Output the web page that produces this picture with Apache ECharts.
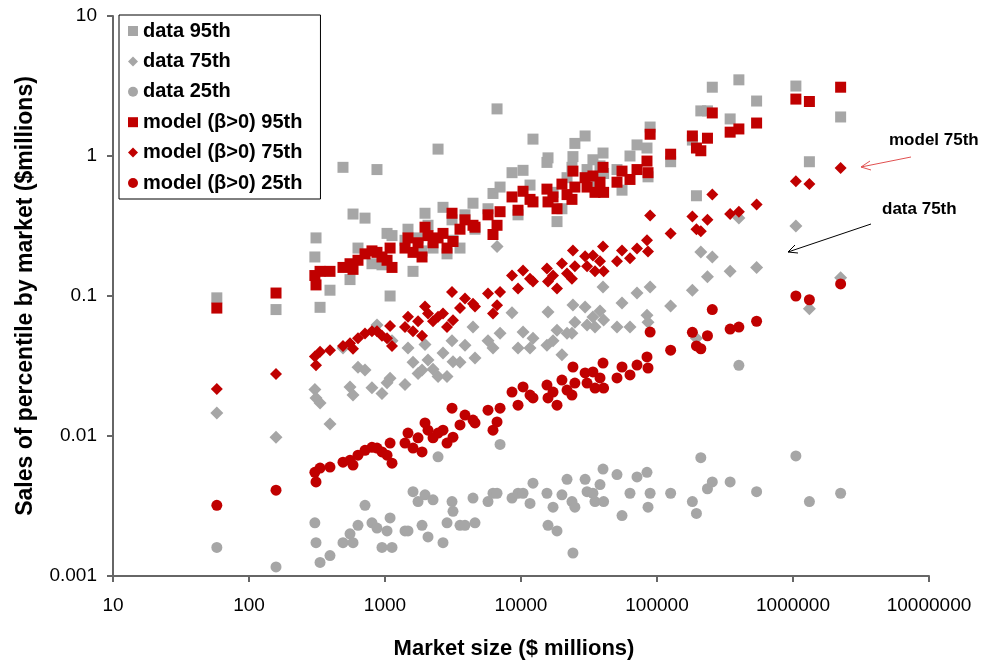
<!DOCTYPE html>
<html>
<head>
<meta charset="utf-8">
<script src="https://cdn.jsdelivr.net/npm/echarts@6/dist/echarts.min.js"></script>
<style>
  html, body { margin: 0; padding: 0; background: #fff; }
  #chart { width: 1007px; height: 667px; }
</style>
</head>
<body>
<div id="chart"></div>
<script>
// market size ($ millions), one entry per market
var marketSize = [58, 158,
  305, 311, 333, 394, 491, 553, 582, 633, 713, 802, 873, 950, 1035, 1090, 1126,
  1403, 1476, 1607, 1750, 1872, 1969, 2071, 2255, 2455, 2670, 2858, 3110, 3162,
  3560, 3873, 4436, 4590, 5720, 6224, 6665, 7015, 8590, 9510, 10350, 11650, 12250,
  15520, 15800, 17200, 18400, 20000, 21800, 23700, 24100, 24900, 29600, 30600,
  33800, 35000, 38100, 40100, 40500, 50800, 55300, 63300, 71300, 84400, 85900, 89000,
  126000, 182000, 195000, 210000, 235000, 255000, 345000, 400000, 540000,
  1050000, 1320000, 2240000];

var data95 = [0.097, 0.08,
  0.19, 0.26, 0.083, 0.11, 0.83, 0.131, 0.385, 0.22, 0.36, 0.17, 0.80, 0.167, 0.28, 0.10, 0.27,
  0.25, 0.30, 0.15, 0.26, 0.21, 0.39, 0.32, 0.22, 1.12, 0.43, 0.20, 0.35, 0.25,
  0.22, 0.38, 0.46, 0.30, 0.42, 0.54, 2.17, 0.60, 0.76, 0.38, 0.79, 0.62, 1.32,
  0.90, 0.97, 0.55, 0.34, 0.42, 0.70, 0.83, 0.99, 1.23, 1.39, 0.80,
  0.94, 0.65, 0.85, 1.05, 0.75, 0.80, 0.57, 1.0, 1.2, 1.14, 0.71, 1.61,
  0.91, 1.3, 0.52, 2.1, 2.1, 3.1, 1.84, 3.5, 2.47,
  3.16, 0.91, 1.9];

var data75 = [0.0146, 0.0098,
  0.0215, 0.0187, 0.0172, 0.0122, 0.0425, 0.0224, 0.0196, 0.031, 0.0296, 0.0221, 0.062, 0.0201, 0.024, 0.0258, 0.048,
  0.0233, 0.0425, 0.0336, 0.028, 0.0296, 0.045, 0.0349, 0.030, 0.0266, 0.0392, 0.0266, 0.048, 0.0339,
  0.0336, 0.0445, 0.060, 0.036, 0.048, 0.0425, 0.226, 0.0543, 0.0758, 0.0425, 0.0554, 0.0425, 0.05,
  0.0445, 0.077, 0.048, 0.057, 0.0381, 0.0543, 0.0543, 0.0862, 0.065, 0.0834, 0.062,
  0.0709, 0.060, 0.078, 0.116, 0.0675, 0.060, 0.0893, 0.060, 0.105, 0.073, 0.065, 0.116,
  0.085, 0.11, 0.05, 0.206, 0.137, 0.19, 0.15, 0.36, 0.16,
  0.316, 0.081, 0.135];

var data25 = [0.0016, 0.00116,
  0.0024, 0.00173, 0.00125, 0.0014, 0.00173, 0.0020, 0.00173, 0.0023, 0.0032, 0.0024, 0.0022, 0.0016, 0.0021, 0.0026, 0.0016,
  0.0021, 0.0021, 0.0040, 0.0034, 0.0023, 0.0038, 0.0019, 0.0035, 0.0071, 0.00173, 0.0024, 0.0034, 0.0029,
  0.0023, 0.0023, 0.0036, 0.0024, 0.0034, 0.0039, 0.0039, 0.0087, 0.0036, 0.0039, 0.0039, 0.0033, 0.0046,
  0.0039, 0.0023, 0.0031, 0.0021, 0.0038, 0.0049, 0.0034, 0.00146, 0.0031, 0.0049, 0.0040,
  0.0039, 0.0034, 0.0045, 0.0058, 0.0034, 0.0053, 0.0027, 0.0039, 0.0051, 0.0055, 0.0031, 0.0039,
  0.0039, 0.0034, 0.0028, 0.0070, 0.0042, 0.0047, 0.0047, 0.032, 0.0040,
  0.0072, 0.0034, 0.0039];

var model95 = [0.082, 0.105,
  0.14, 0.12, 0.15, 0.15, 0.16, 0.17, 0.155, 0.18, 0.20, 0.21, 0.205, 0.19, 0.18, 0.22, 0.16,
  0.22, 0.26, 0.205, 0.24, 0.19, 0.31, 0.27, 0.24, 0.26, 0.28, 0.22, 0.39, 0.245,
  0.30, 0.35, 0.32, 0.31, 0.38, 0.275, 0.32, 0.40, 0.51, 0.41, 0.56, 0.49, 0.47,
  0.58, 0.47, 0.51, 0.42, 0.63, 0.53, 0.49, 0.78, 0.60, 0.70, 0.60,
  0.72, 0.55, 0.65, 0.83, 0.55, 0.65, 0.78, 0.68, 0.80, 0.92, 0.76, 1.43,
  1.03, 1.39, 1.14, 1.09, 1.34, 2.03, 1.48, 1.56, 1.72,
  2.55, 2.45, 3.1];

var model75 = [0.0217, 0.0277,
  0.037, 0.032, 0.040, 0.041, 0.044, 0.046, 0.042, 0.050, 0.054, 0.056, 0.056, 0.052, 0.050, 0.061, 0.044,
  0.060, 0.071, 0.056, 0.066, 0.052, 0.084, 0.075, 0.066, 0.071, 0.075, 0.060, 0.107, 0.067,
  0.082, 0.096, 0.088, 0.084, 0.104, 0.075, 0.086, 0.107, 0.140, 0.113, 0.152, 0.133, 0.127,
  0.157, 0.127, 0.140, 0.113, 0.171, 0.145, 0.133, 0.211, 0.163, 0.192, 0.163,
  0.195, 0.150, 0.177, 0.226, 0.150, 0.177, 0.211, 0.186, 0.218, 0.250, 0.208, 0.376,
  0.28, 0.37, 0.30, 0.29, 0.35, 0.53, 0.385, 0.40, 0.45,
  0.66, 0.63, 0.82];

var model25 = [0.0032, 0.0041,
  0.0055, 0.0047, 0.0059, 0.0060, 0.0065, 0.0067, 0.0062, 0.0073, 0.0079, 0.0083, 0.0082, 0.0077, 0.0073, 0.0089, 0.0064,
  0.0089, 0.0105, 0.0082, 0.0097, 0.0077, 0.0124, 0.0110, 0.0097, 0.0105, 0.0110, 0.0089, 0.0158, 0.0098,
  0.0120, 0.0141, 0.0130, 0.0124, 0.0153, 0.0110, 0.0126, 0.0158, 0.0206, 0.0166, 0.0224, 0.0196, 0.0187,
  0.0231, 0.0187, 0.0206, 0.0166, 0.0251, 0.0213, 0.0196, 0.0311, 0.0239, 0.0282, 0.0239,
  0.0287, 0.0220, 0.0260, 0.0332, 0.0220, 0.0260, 0.0311, 0.0273, 0.0321, 0.0367, 0.0306, 0.0553,
  0.041, 0.055, 0.044, 0.042, 0.052, 0.080, 0.058, 0.060, 0.066,
  0.10, 0.094, 0.122];

var font = 'Arial, "Liberation Sans", sans-serif';
var gray = '#a6a6a6';
var red = '#c00000';

function pairs(ys) {
  return marketSize.map(function (x, i) { return [x, ys[i]]; });
}

function fmt(v) {
  return String(+Number(v).toPrecision(1));
}

var chart = echarts.init(document.getElementById('chart'));

chart.setOption({
  animation: false,
  grid: { left: 113, right: 78, top: 16, bottom: 91 },
  legend: {
    orient: 'vertical',
    left: 119,
    top: 15,
    padding: [6, 18, 6, 9],
    itemWidth: 10,
    itemHeight: 10,
    itemGap: 10.4,
    backgroundColor: '#fff',
    borderColor: '#000',
    borderWidth: 1,
    textStyle: { fontFamily: font, fontSize: 20, lineHeight: 20, fontWeight: 'bold', color: '#000' },
    data: ['data 95th', 'data 75th', 'data 25th', 'model (β>0) 95th', 'model (β>0) 75th', 'model (β>0) 25th']
  },
  xAxis: {
    type: 'log',
    logBase: 10,
    min: 10,
    max: 10000000,
    name: 'Market size ($ millions)',
    nameLocation: 'middle',
    nameGap: 62,
    nameTextStyle: { fontFamily: font, fontSize: 22, fontWeight: 'bold', color: '#000', padding: [0, 14, 0, 0] },
    axisLine: { lineStyle: { color: '#666', width: 2 } },
    axisTick: { length: 6, lineStyle: { color: '#666', width: 2 } },
    axisLabel: { fontFamily: font, fontSize: 19, color: '#000', margin: 20, formatter: fmt },
    splitLine: { show: false },
    minorTick: { show: false }
  },
  yAxis: {
    type: 'log',
    logBase: 10,
    min: 0.001,
    max: 10,
    name: 'Sales of percentile by market ($millions)',
    nameLocation: 'middle',
    nameGap: 76,
    nameTextStyle: { fontFamily: font, fontSize: 23, fontWeight: 'bold', color: '#000' },
    axisLine: { lineStyle: { color: '#666', width: 2 } },
    axisTick: { length: 6, lineStyle: { color: '#666', width: 2 } },
    axisLabel: { fontFamily: font, fontSize: 19, color: '#000', margin: 16, formatter: fmt },
    splitLine: { show: false }
  },
  series: [
    { name: 'data 95th', type: 'scatter', symbol: 'rect', symbolSize: 11, itemStyle: { color: gray, opacity: 1 }, data: pairs(data95) },
    { name: 'data 75th', type: 'scatter', symbol: 'diamond', symbolSize: 13, itemStyle: { color: gray, opacity: 1 }, data: pairs(data75) },
    { name: 'data 25th', type: 'scatter', symbol: 'circle', symbolSize: 11, itemStyle: { color: gray, opacity: 1 }, data: pairs(data25) },
    { name: 'model (β>0) 95th', type: 'scatter', symbol: 'rect', symbolSize: 11, itemStyle: { color: red, opacity: 1 }, data: pairs(model95) },
    { name: 'model (β>0) 75th', type: 'scatter', symbol: 'diamond', symbolSize: 12, itemStyle: { color: red, opacity: 1 }, data: pairs(model75) },
    { name: 'model (β>0) 25th', type: 'scatter', symbol: 'circle', symbolSize: 11, itemStyle: { color: red, opacity: 1 }, data: pairs(model25) }
  ],
  graphic: [
    { type: 'text', left: 889, top: 132, style: { text: 'model 75th', fontFamily: font, fontSize: 17, fontWeight: 'bold', fill: '#000' } },
    { type: 'line', shape: { x1: 911, y1: 157, x2: 861, y2: 167 }, style: { stroke: '#e05050', lineWidth: 1 } },
    { type: 'polyline', shape: { points: [[870, 161], [861, 167], [871, 170]] }, style: { stroke: '#e05050', lineWidth: 1, fill: null } },
    { type: 'text', left: 882, top: 201, style: { text: 'data 75th', fontFamily: font, fontSize: 17, fontWeight: 'bold', fill: '#000' } },
    { type: 'line', shape: { x1: 871, y1: 224, x2: 788, y2: 252 }, style: { stroke: '#000', lineWidth: 1 } },
    { type: 'polyline', shape: { points: [[795, 245], [788, 252], [798, 253]] }, style: { stroke: '#000', lineWidth: 1, fill: null } }
  ]
});
</script>
</body>
</html>
